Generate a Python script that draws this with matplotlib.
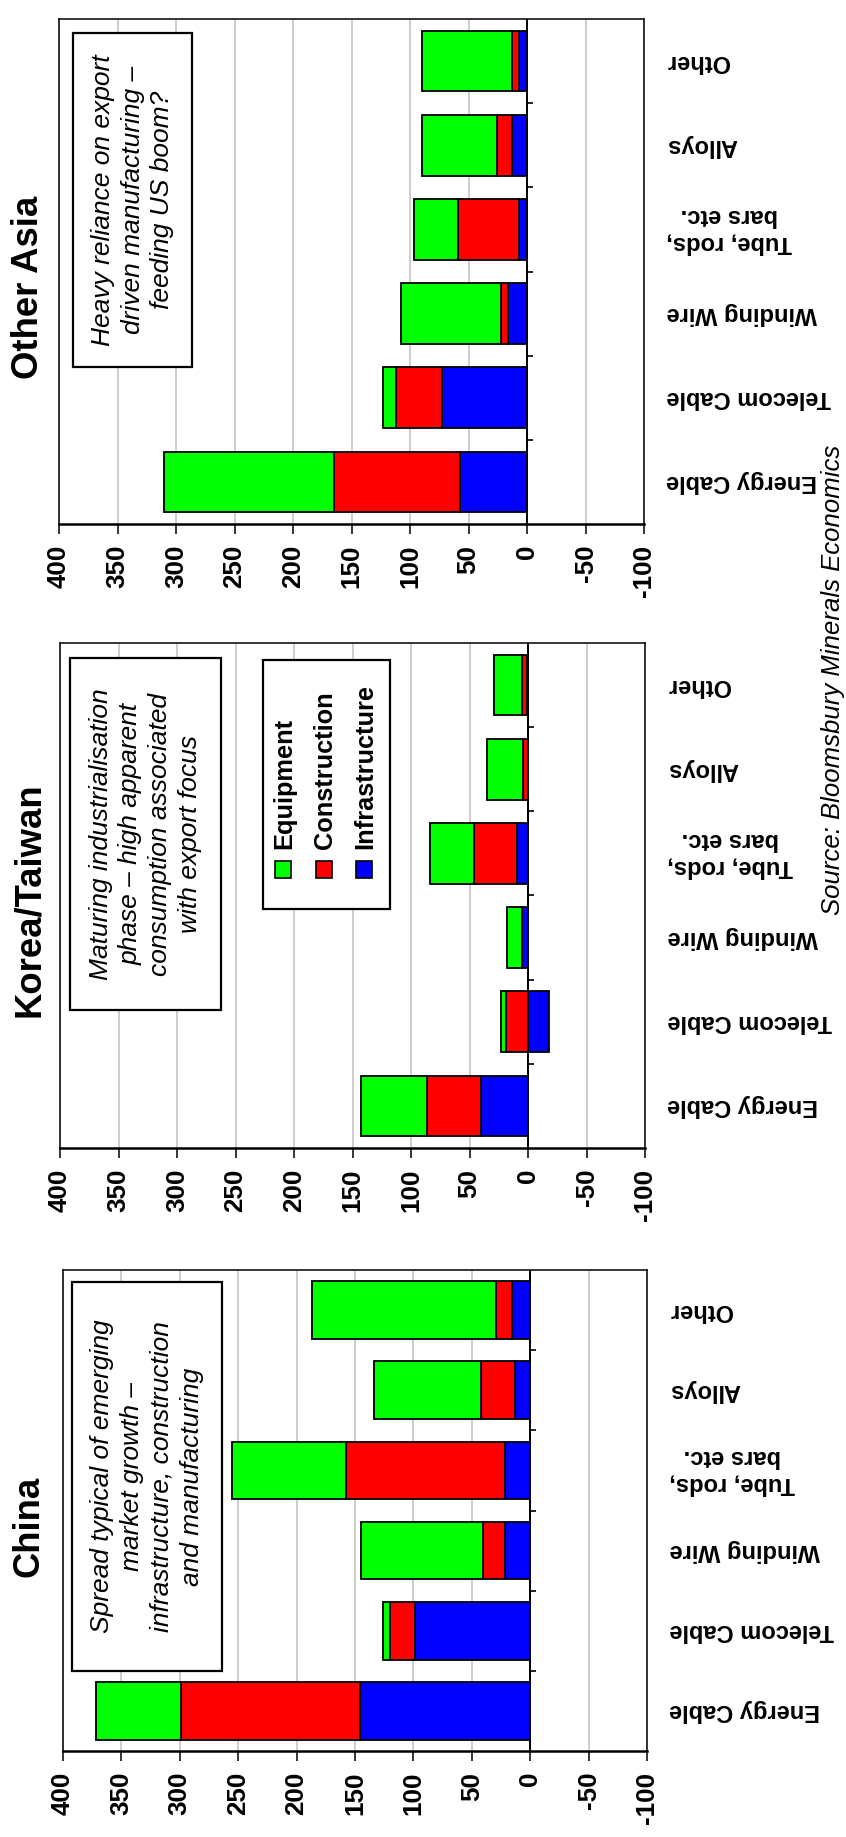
import matplotlib
matplotlib.use("Agg")
import matplotlib.pyplot as plt
from matplotlib.patches import Rectangle
import numpy as np

# ---------------- data ----------------
categories = ["Energy Cable", "Telecom Cable", "Winding Wire",
              "Tube, rods,\nbars etc.", "Alloys", "Other"]
series_names = ["Equipment", "Construction", "Infrastructure"]
series_colors = ["#00ff00", "#ff0000", "#0000ff"]
value_ticks = [400, 350, 300, 250, 200, 150, 100, 50, 0, -50, -100]

china_infra = [146, 99, 22, 22, 13, 16]
china_constr = [153, 21, 18, 136, 29, 13]
china_equip = [73, 6, 105, 97, 92, 158]

korea_infra = [40, -18, 5, 9, 0, 1]
korea_constr = [46, 19, 0, 37, 4, 4]
korea_equip = [57, 4, 13, 38, 31, 24]

other_infra = [57, 73, 16, 7, 13, 7]
other_constr = [108, 39, 6, 52, 13, 6]
other_equip = [145, 11, 86, 38, 64, 77]

titles = ["Other Asia", "Korea/Taiwan", "China"]
notes = ["Heavy reliance on export\ndriven manufacturing \u2013\nfeeding US boom?",
         "Maturing industrialisation\nphase \u2013 high apparent\nconsumption associated\nwith export focus",
         "Spread typical of emerging\nmarket growth \u2013\ninfrastructure, construction\nand manufacturing"]
source_text = "Source: Bloomsbury Minerals Economics"

# ---------------- layout (pixels, y from top) ----------------
W, H = 846, 1837
plt.rcParams["font.family"] = ["Liberation Sans", "DejaVu Sans"]

fig = plt.figure(figsize=(W / 100, H / 100), dpi=100)


def fx(px):
    return px / W


def fy(py):
    return 1 - py / H


panels = [
    dict(title=titles[0], rect=(59, 19, 644, 524), title_y=287, box=(73, 33, 192, 367),
         note=notes[0], data=(other_infra, other_constr, other_equip)),
    dict(title=titles[1], rect=(60, 643, 645, 1148), title_y=900, box=(70, 658, 221, 1010),
         note=notes[1], data=(korea_infra, korea_constr, korea_equip)),
    dict(title=titles[2], rect=(63, 1270, 647, 1751), title_y=1526, box=(72, 1282, 222, 1671),
         note=notes[2], data=(china_infra, china_constr, china_equip)),
]

ypos = np.arange(len(categories))

for p in panels:
    l, t, r, b = p["rect"]
    ax = fig.add_axes([fx(l), fy(b), (r - l) / W, (b - t) / H])
    ax.set_xlim(400, -100)
    ax.set_ylim(-0.5, len(categories) - 0.5)

    pos = np.zeros(len(categories))
    neg = np.zeros(len(categories))
    infra, constr, equip = p["data"]
    for vals, col in [(infra, series_colors[2]), (constr, series_colors[1]), (equip, series_colors[0])]:
        v = np.array(vals, dtype=float)
        left = np.where(v >= 0, pos, neg)
        ax.barh(ypos, v, left=left, height=0.72, color=col, edgecolor="black",
                linewidth=1.3, zorder=3)
        pos += np.where(v >= 0, v, 0)
        neg += np.where(v < 0, v, 0)

    ax.set_axisbelow(True)
    ax.grid(axis="x", color="#c0c0c0", linewidth=1.1)
    ax.grid(axis="y", visible=False)
    ax.axvline(0, color="black", linewidth=1.4, zorder=2.5)
    ax.hlines(ypos[:-1] + 0.5, 0, -5, colors="black", linewidth=1.2, zorder=2.5, clip_on=False)

    ax.set_xticks(value_ticks)
    ax.set_xticklabels([str(v) for v in value_ticks], rotation=90, fontweight="bold",
                       fontsize=18.7)
    ax.tick_params(axis="x", direction="out", length=7, width=1.1, pad=8)

    ax.yaxis.tick_right()
    ax.set_yticks(ypos)
    ax.set_yticklabels(categories, rotation=180, ha="left", va="center",
                       fontsize=17, fontweight="bold", multialignment="center",
                       linespacing=1.25)
    ax.tick_params(axis="y", length=0, pad=16)

    for sp in ["left", "top", "right"]:
        ax.spines[sp].set_linewidth(1.1)
    ax.spines["bottom"].set_linewidth(1.8)

    # title
    fig.text(fx(29), fy(p["title_y"]), p["title"], rotation=90, ha="center", va="center",
             fontsize=26.3, fontweight="bold")

    # annotation box
    x0, y0, x1, y1 = p["box"]
    fig.add_artist(Rectangle((fx(x0), fy(y1)), (x1 - x0) / W, (y1 - y0) / H,
                             transform=fig.transFigure, facecolor="white",
                             edgecolor="black", linewidth=1.6, zorder=5))
    fig.text(fx((x0 + x1) / 2), fy((y0 + y1) / 2), p["note"], rotation=90,
             ha="center", va="center", multialignment="center", style="italic",
             fontsize=19, linespacing=1.3, zorder=6)

# legend (Korea/Taiwan panel)
lx0, ly0, lx1, ly1 = 263, 660, 390, 909
fig.add_artist(Rectangle((fx(lx0), fy(ly1)), (lx1 - lx0) / W, (ly1 - ly0) / H,
                         transform=fig.transFigure, facecolor="white",
                         edgecolor="black", linewidth=1.6, zorder=5))
leg_x = [283, 324, 364]
for name, col, cx in zip(series_names, series_colors, leg_x):
    fig.add_artist(Rectangle((fx(cx - 8), fy(878)), 16 / W, 17 / H,
                             transform=fig.transFigure, facecolor=col,
                             edgecolor="black", linewidth=1.2, zorder=6))
    fig.text(fx(cx + 1), fy(849), name, rotation=90, ha="center", va="bottom",
             fontsize=18.3, fontweight="bold", zorder=6)

# source
fig.text(fx(833), fy(680), source_text, rotation=90, ha="center", va="center",
         style="italic", fontsize=18.5)

fig.savefig("out.png", dpi=100)
